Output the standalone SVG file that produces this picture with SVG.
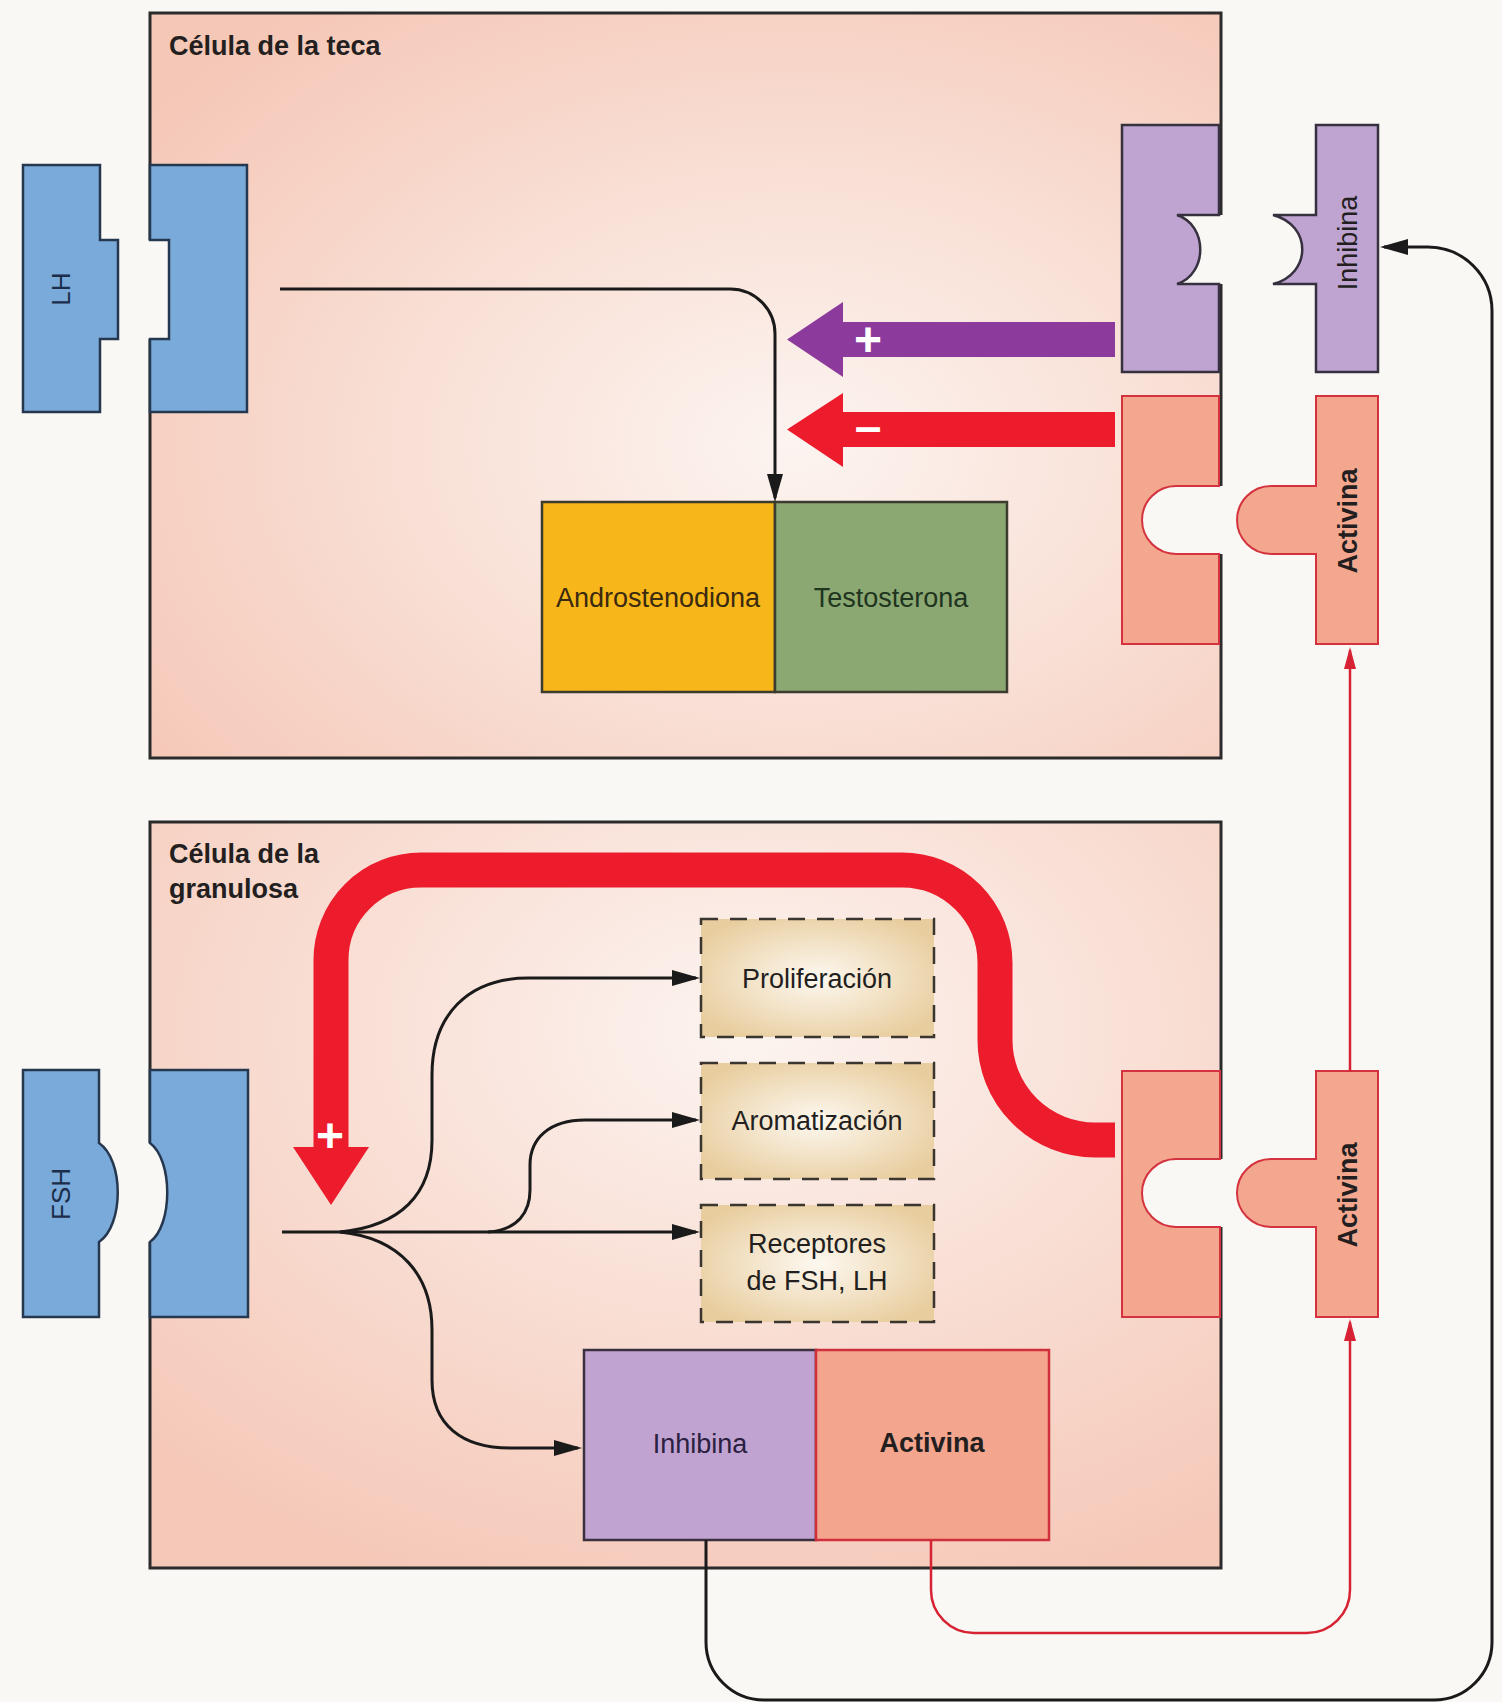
<svg xmlns="http://www.w3.org/2000/svg" width="1502" height="1702" viewBox="0 0 1502 1702">
<defs>
  <radialGradient id="gTeca" cx="0.6" cy="0.58" r="0.75">
    <stop offset="0" stop-color="#FCF4F0"/>
    <stop offset="0.45" stop-color="#F9E1D7"/>
    <stop offset="1" stop-color="#F5C7B7"/>
  </radialGradient>
  <radialGradient id="gGran" cx="0.56" cy="0.28" r="0.8">
    <stop offset="0" stop-color="#FCF4F0"/>
    <stop offset="0.45" stop-color="#F9E0D6"/>
    <stop offset="1" stop-color="#F5C8B8"/>
  </radialGradient>
  <radialGradient id="gDash" cx="0.5" cy="0.5" r="0.6">
    <stop offset="0" stop-color="#FDF8F0"/>
    <stop offset="1" stop-color="#E8CD9E"/>
  </radialGradient>
  <marker id="ab" viewBox="0 0 28 16" refX="24" refY="8" markerWidth="28" markerHeight="16" markerUnits="userSpaceOnUse" orient="auto">
    <path d="M0,0 L28,8 L0,16 Z" fill="#1a1a1a"/>
  </marker>
  <marker id="ar" viewBox="0 0 22 12" refX="19" refY="6" markerWidth="22" markerHeight="12" markerUnits="userSpaceOnUse" orient="auto">
    <path d="M0,0 L22,6 L0,12 Z" fill="#D62232"/>
  </marker>
</defs>
<style>
  .cell { stroke:#2b2b2b; stroke-width:3; }
  .blue { fill:#7AAAD9; stroke:#26384F; stroke-width:2.5; }
  .purple { fill:#BFA4D2; stroke:#37303F; stroke-width:2.5; }
  .salmon { fill:#F4A78F; stroke:#D3323E; stroke-width:2; }
  .bg { fill:#FAF8F4; }
  .t { font-family:"Liberation Sans", Arial, Helvetica, sans-serif; font-size:27px; fill:#231F20; }
  .b { font-weight:bold; }
  .mid { text-anchor:middle; }
  .conn { fill:none; stroke:#1a1a1a; stroke-width:3; }
  .rconn { fill:none; stroke:#D62232; stroke-width:2.5; }
  .dash { fill:url(#gDash); stroke:#3A352E; stroke-width:2.5; stroke-dasharray:17 12; }
  .sign { font-family:"Liberation Sans", Arial, sans-serif; font-weight:bold; font-size:48px; fill:#FFFFFF; text-anchor:middle; }
</style>
<rect x="0" y="0" width="1502" height="1702" class="bg"/>

<g id="teca-cell">
  <rect x="150" y="13" width="1071" height="745" fill="url(#gTeca)" class="cell"/>
  <text x="169" y="55" class="t b">Célula de la teca</text>
</g>

<g id="granulosa-cell">
  <rect x="150" y="822" width="1071" height="746" fill="url(#gGran)" class="cell"/>
  <text x="169" y="863" class="t b">Célula de la</text>
  <text x="169" y="898" class="t b">granulosa</text>
</g>

<!-- notch patches covering the cell borders -->
<g id="notch-gaps" class="bg">
  <rect x="146" y="240" width="23" height="99"/>
  <path d="M147,1143 H150 C173,1160 173,1225 150,1242 H147 Z"/>
  <path d="M1177,215 C1208,225 1208,274 1177,284 H1225 V215 Z"/>
  <path d="M1176,486 A34,34 0 0 0 1176,554 H1225 V486 Z"/>
  <path d="M1176,1159 A34,34 0 0 0 1176,1227 H1225 V1159 Z"/>
</g>

<g id="lh">
  <path d="M23,165 H100 V240 H118 V339 H100 V412 H23 Z" class="blue"/>
  <text transform="translate(70,289) rotate(-90)" class="t mid" style="font-size:26px;fill:#1B2D4A">LH</text>
</g>
<g id="lh-receptor">
  <path d="M150,165 H247 V412 H150 V339 H169 V240 H150 Z" class="blue"/>
</g>

<g id="fsh">
  <path d="M23,1070 H99 V1143 C124,1160 124,1225 99,1242 V1317 H23 Z" class="blue"/>
  <text transform="translate(70,1194) rotate(-90)" class="t mid" style="font-size:26px;fill:#1B2D4A">FSH</text>
</g>
<g id="fsh-receptor">
  <path d="M150,1070 H248 V1317 H150 V1242 C173,1225 173,1160 150,1143 Z" class="blue"/>
</g>

<g id="inhibina-receptor-teca">
  <path d="M1122,125 H1219 V215 H1177 C1208,225 1208,274 1177,284 H1219 V372 H1122 Z" class="purple"/>
</g>
<g id="inhibina-ligand">
  <path d="M1316,125 H1378 V372 H1316 V284 H1273 C1312,274 1312,225 1273,215 H1316 Z" class="purple"/>
  <text transform="translate(1357,243) rotate(-90)" class="t mid">Inhibina</text>
</g>

<g id="activina-receptor-teca">
  <path d="M1122,396 H1219 V486 H1176 A34,34 0 0 0 1176,554 H1219 V644 H1122 Z" class="salmon"/>
</g>
<g id="activina-ligand-teca">
  <path d="M1316,396 H1378 V644 H1316 V554 H1271 A34,34 0 0 1 1271,486 H1316 Z" class="salmon"/>
  <text transform="translate(1357,521) rotate(-90)" class="t b mid">Activina</text>
</g>

<g id="activina-receptor-granulosa">
  <path d="M1122,1071 H1220 V1159 H1176 A34,34 0 0 0 1176,1227 H1220 V1317 H1122 Z" class="salmon"/>
</g>
<g id="activina-ligand-granulosa">
  <path d="M1316,1071 H1378 V1317 H1316 V1227 H1271 A34,34 0 0 1 1271,1159 H1316 Z" class="salmon"/>
  <text transform="translate(1357,1195) rotate(-90)" class="t b mid">Activina</text>
</g>

<g id="androstenodiona">
  <rect x="542" y="502" width="233" height="190" fill="#F7B61A" stroke="#3B3B2F" stroke-width="2.5"/>
  <text x="658" y="607" class="t mid" style="fill:#3A2A10">Androstenodiona</text>
</g>
<g id="testosterona">
  <rect x="775" y="502" width="232" height="190" fill="#8BA872" stroke="#3B3B2F" stroke-width="2.5"/>
  <text x="891" y="607" class="t mid" style="fill:#1F3520">Testosterona</text>
</g>

<g id="proliferacion">
  <rect x="701" y="919" width="233" height="118" class="dash"/>
  <text x="817" y="988" class="t mid">Proliferación</text>
</g>
<g id="aromatizacion">
  <rect x="701" y="1063" width="233" height="116" class="dash"/>
  <text x="817" y="1130" class="t mid">Aromatización</text>
</g>
<g id="receptores">
  <rect x="701" y="1205" width="233" height="117" class="dash"/>
  <text x="817" y="1253" class="t mid">Receptores</text>
  <text x="817" y="1290" class="t mid">de FSH, LH</text>
</g>

<g id="inhibina">
  <rect x="584" y="1350" width="232" height="190" fill="#C0A3D1" stroke="#3A3040" stroke-width="2.5"/>
  <text x="700" y="1453" class="t mid" style="fill:#2A2040">Inhibina</text>
</g>
<g id="activina">
  <rect x="816" y="1350" width="233" height="190" fill="#F4A58E" stroke="#D0303C" stroke-width="2.5"/>
  <text x="932" y="1452" class="t b mid">Activina</text>
</g>

<g id="connectors">
  <path d="M280,289 H730 A45,45 0 0 1 775,334 V498" class="conn" marker-end="url(#ab)"/>
  <path d="M1115,322 H843 V302 L787,339.5 L843,377 V357 H1115 Z" fill="#8C3B9C"/>
  <text x="868" y="356" class="sign">+</text>
  <path d="M1115,412 H843 V393 L787,429.5 L843,467 V447 H1115 Z" fill="#EC1C2D"/>
  <text x="868" y="443" class="sign">–</text>

  <path d="M1115,1140 H1095 A100,100 0 0 1 995,1040 V963 A93,93 0 0 0 902,870 H421 A90,90 0 0 0 331,960 V1150" fill="none" stroke="#EC1C2D" stroke-width="35"/>
  <path d="M293,1147 L369,1147 L331,1205 Z" fill="#EC1C2D"/>
  <text x="330" y="1152" class="sign">+</text>

  <path d="M282,1232 H696" class="conn" marker-end="url(#ab)"/>
  <path d="M340,1232 C400,1226 432,1195 432,1140 V1075 C432,1015 468,978 528,978 H696" class="conn" marker-end="url(#ab)"/>
  <path d="M488,1232 C518,1230 530,1212 530,1190 V1165 C530,1138 550,1120 585,1120 H696" class="conn" marker-end="url(#ab)"/>
  <path d="M340,1232 C400,1238 432,1275 432,1330 V1380 C432,1425 462,1448 510,1448 H578" class="conn" marker-end="url(#ab)"/>

  <path d="M706,1540 V1642 A58,58 0 0 0 764,1700 H1434 A58,58 0 0 0 1492,1642 V311 A64,64 0 0 0 1428,247 H1384" class="conn" marker-end="url(#ab)"/>
  <path d="M931,1540 V1590 A43,43 0 0 0 974,1633 H1307 A43,43 0 0 0 1350,1590 V1322" class="rconn" marker-end="url(#ar)"/>
  <path d="M1350,1071 V650" class="rconn" marker-end="url(#ar)"/>
</g>
</svg>
